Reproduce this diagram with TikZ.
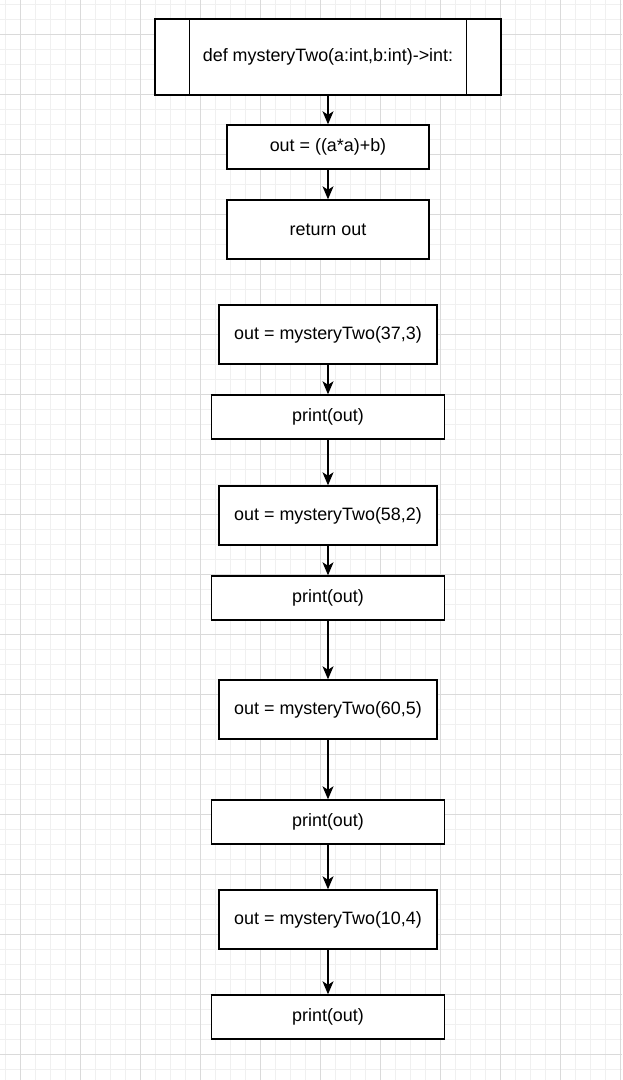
\documentclass[tikz,border=0pt]{standalone}
\usepackage{fontspec}
\setmainfont{Liberation Sans}
\usetikzlibrary{arrows.meta}
\definecolor{gridminor}{HTML}{F0F0F0}
\definecolor{gridmajor}{HTML}{DADADA}
\tikzset{
  box/.style={draw=black, line width=1.4pt, fill=white, rectangle, inner sep=0pt,
    font=\fontsize{17.9}{21}\selectfont},
  arr/.style={draw=black, line width=1.4pt, -{Stealth[length=13pt, width=11pt, inset=3.5pt]}},
}
\begin{document}
\begin{tikzpicture}[x=1pt, y=-1pt]
\useasboundingbox (0,0) rectangle (622,1080);
\fill[white] (0,0) rectangle (622,1080);
% grid
\foreach \i in {0,...,41} {
  \draw[gridminor, line width=0.9pt] ({5+15*\i},0) -- ({5+15*\i},1080);
}
\foreach \j in {0,...,71} {
  \draw[gridminor, line width=0.9pt] (0,{4+15*\j}) -- (622,{4+15*\j});
}
\foreach \i in {0,...,10} {
  \draw[gridmajor, line width=0.9pt] ({20+60*\i},0) -- ({20+60*\i},1080);
}
\foreach \j in {0,...,17} {
  \draw[gridmajor, line width=0.9pt] (0,{34+60*\j}) -- (622,{34+60*\j});
}
% nodes
\node[box, minimum width=346pt, minimum height=76pt] (top) at (328,57) {def mysteryTwo(a:int,b:int)->int:};
\draw[line width=1.4pt] ([xshift=35pt]top.north west) -- ([xshift=35pt]top.south west);
\draw[line width=1.4pt] ([xshift=-35pt]top.north east) -- ([xshift=-35pt]top.south east);
\node[box, minimum width=202pt, minimum height=44pt] (n2) at (328,147) {out = ((a*a)+b)};
\node[box, minimum width=202pt, minimum height=59pt] (n3) at (328,229.5) {return out};
\node[box, minimum width=218pt, minimum height=59pt] (n4) at (328,334.5) {out = mysteryTwo(37,3)};
\node[box, minimum width=233pt, minimum height=44pt] (n5) at (328,417) {print(out)};
\node[box, minimum width=218pt, minimum height=59pt] (n6) at (328,515.5) {out = mysteryTwo(58,2)};
\node[box, minimum width=233pt, minimum height=44pt] (n7) at (328,598) {print(out)};
\node[box, minimum width=218pt, minimum height=59pt] (n8) at (328,709.5) {out = mysteryTwo(60,5)};
\node[box, minimum width=233pt, minimum height=44pt] (n9) at (328,822) {print(out)};
\node[box, minimum width=218pt, minimum height=59pt] (n10) at (328,919.5) {out = mysteryTwo(10,4)};
\node[box, minimum width=233pt, minimum height=44pt] (n11) at (328,1017) {print(out)};
% connectors
\draw[arr] (top.south) -- (n2.north);
\draw[arr] (n2.south) -- (n3.north);
\draw[arr] (n4.south) -- (n5.north);
\draw[arr] (n5.south) -- (n6.north);
\draw[arr] (n6.south) -- (n7.north);
\draw[arr] (n7.south) -- (n8.north);
\draw[arr] (n8.south) -- (n9.north);
\draw[arr] (n9.south) -- (n10.north);
\draw[arr] (n10.south) -- (n11.north);
\end{tikzpicture}
\end{document}
